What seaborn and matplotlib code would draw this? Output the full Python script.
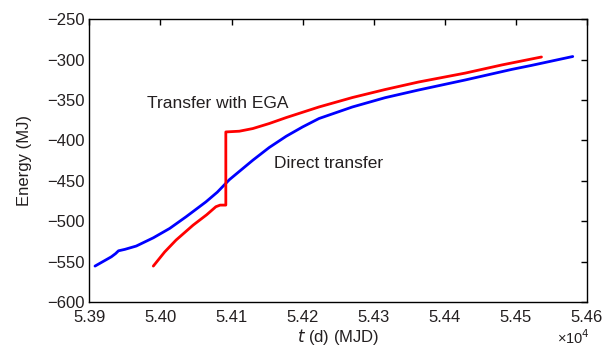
import matplotlib
matplotlib.use("Agg")
import matplotlib.pyplot as plt
import seaborn as sns
import pandas as pd
from matplotlib.ticker import FuncFormatter, MultipleLocator

# Direct transfer (MJD, MJ)
direct_t = [53908, 53931, 53937, 53941, 53950, 53966, 53990, 54013, 54036, 54064,
            54080, 54097, 54130, 54153, 54177, 54200, 54223, 54270, 54316, 54363,
            54429, 54494, 54522, 54580]
direct_e = [-555.5, -544.0, -540.0, -536.6, -534.8, -530.7, -520.5, -508.9, -494.5, -476.0,
            -464.0, -448.5, -424.4, -408.7, -394.7, -383.2, -372.8, -358.5, -347.0, -337.5,
            -325.0, -312.0, -307.0, -296.0]

# Transfer with EGA (MJD, MJ)
ega_t = [53990, 54006, 54022, 54046, 54065, 54078, 54084, 54092, 54092, 54111,
         54130, 54153, 54177, 54223, 54270, 54316, 54363, 54429, 54480, 54536]
ega_e = [-555.5, -538.0, -523.3, -504.8, -492.0, -482.0, -480.0, -480.0, -389.4, -388.5,
         -385.2, -379.0, -371.6, -358.5, -346.8, -336.9, -327.6, -316.5, -306.5, -296.6]

df_direct = pd.DataFrame({"t": direct_t, "E": direct_e})
df_ega = pd.DataFrame({"t": ega_t, "E": ega_e})

sns.set_style("white")
plt.rcParams["font.family"] = ["Liberation Sans", "DejaVu Sans"]

fig = plt.figure(figsize=(6.06, 3.52), dpi=100)
ax = fig.add_axes([0.1474, 0.142, 0.8212, 0.803])

sns.lineplot(data=df_direct, x="t", y="E", color="#0000ff", lw=2.0,
             sort=False, estimator=None, ax=ax)
sns.lineplot(data=df_ega, x="t", y="E", color="#ff0000", lw=2.0,
             sort=False, estimator=None, ax=ax)

ax.set_xlim(53900, 54600)
ax.set_ylim(-600, -250)
ax.xaxis.set_major_locator(MultipleLocator(100))
ax.yaxis.set_major_locator(MultipleLocator(50))
ax.xaxis.set_major_formatter(FuncFormatter(lambda v, p: f"{v / 1e4:.2f}"))
ax.yaxis.set_major_formatter(FuncFormatter(lambda v, p: f"\u2212{abs(v):.0f}" if v < 0 else f"{v:.0f}"))

for s in ax.spines.values():
    s.set_color("black")
    s.set_linewidth(1.0)
ax.tick_params(direction="in", length=4, width=1, top=True, right=True,
               labelsize=12, colors="black")
ax.tick_params(axis="x", pad=6)
ax.tick_params(axis="y", pad=3)
ax.tick_params(axis="both", labelcolor="#231f20")

ax.set_xlabel("$\\it{t}$ (d) (MJD)", fontsize=12, color="#231f20", labelpad=1)
ax.set_ylabel("Energy (MJ)", fontsize=12, color="#231f20", labelpad=11)
ax.text(1.005, -0.127, "\u00d710$^4$", transform=ax.transAxes, fontsize=10.5,
        ha="right", va="center", color="#231f20")

ax.text(53981, -354, "Transfer with EGA", fontsize=12.5, color="#231f20",
        va="center", ha="left")
ax.text(54160, -428, "Direct transfer", fontsize=12.5, color="#231f20",
        va="center", ha="left")

fig.savefig("out.png", dpi=100)
